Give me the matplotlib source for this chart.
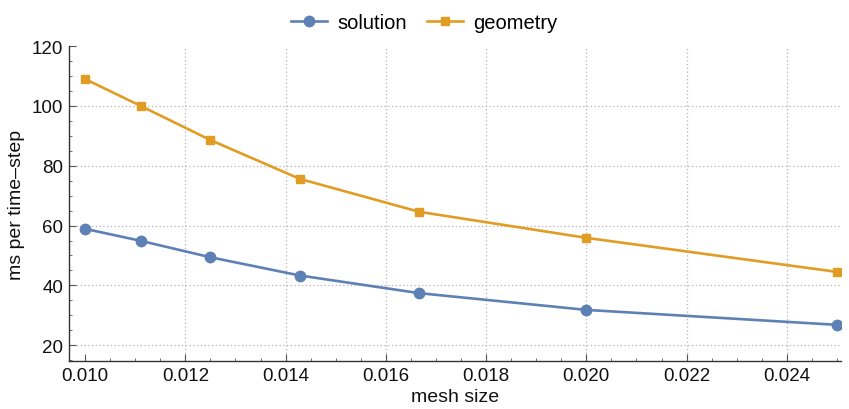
import matplotlib
matplotlib.use("Agg")
import matplotlib.pyplot as plt
from matplotlib.ticker import MultipleLocator, FormatStrFormatter

plt.rcParams['font.family'] = ['Liberation Sans', 'DejaVu Sans']

# mesh sizes 1/100 ... 1/40
mesh_size = [1/100, 1/90, 1/80, 1/70, 1/60, 1/50, 1/40]
solution = [58.9, 54.9, 49.4, 43.3, 37.4, 31.8, 26.8]
geometry = [109.0, 100.0, 88.6, 75.6, 64.6, 55.9, 44.5]

blue = '#5E81B5'
orange = '#E19C24'

fig = plt.figure(figsize=(8.49, 4.10), dpi=100)
ax = fig.add_axes([0.0813, 0.117, 0.9093, 0.768])

ax.plot(mesh_size, solution, color=blue, lw=1.9, marker='o', ms=7.5, label='solution')
ax.plot(mesh_size, geometry, color=orange, lw=1.9, marker='s', ms=5.2, label='geometry')

ax.set_xlim(0.00968, 0.02508)
ax.set_ylim(14.7, 120)

ax.xaxis.set_major_locator(MultipleLocator(0.002))
ax.xaxis.set_minor_locator(MultipleLocator(0.0005))
ax.xaxis.set_major_formatter(FormatStrFormatter('%.3f'))
ax.yaxis.set_major_locator(MultipleLocator(20))
ax.yaxis.set_minor_locator(MultipleLocator(5))

ax.grid(True, which='major', color='#b4b4b4', ls=(0, (1, 2)), lw=0.9)
ax.set_axisbelow(True)

for s in ['top', 'right']:
    ax.spines[s].set_visible(False)
for s in ['left', 'bottom']:
    ax.spines[s].set_color('#333333')
    ax.spines[s].set_linewidth(1.0)

ax.tick_params(which='major', direction='in', length=5, width=0.8, color='#555555',
               labelsize=13.5, labelcolor='#111111', pad=4)
ax.tick_params(which='minor', direction='in', length=2.5, width=0.6, color='#555555')

ax.set_xlabel('mesh size', fontsize=14, color='#111111', labelpad=3)
ax.set_ylabel('ms per time\u2013step', fontsize=14, color='#111111', labelpad=5)

fig.legend(loc='upper center', bbox_to_anchor=(0.5, 1.01), ncol=2, frameon=False,
           fontsize=14.5, handlelength=1.8, columnspacing=1.0, handletextpad=0.5)

# no grid lines along the frame edges (y=120, x=0.010)
fig.canvas.draw()
for t in ax.yaxis.get_major_ticks():
    if abs(t.get_loc() - 120) < 1e-6:
        t.gridline.set_visible(False)
for t in ax.xaxis.get_major_ticks():
    if abs(t.get_loc() - 0.010) < 1e-9:
        t.gridline.set_visible(False)

fig.savefig('out.png', dpi=100)
